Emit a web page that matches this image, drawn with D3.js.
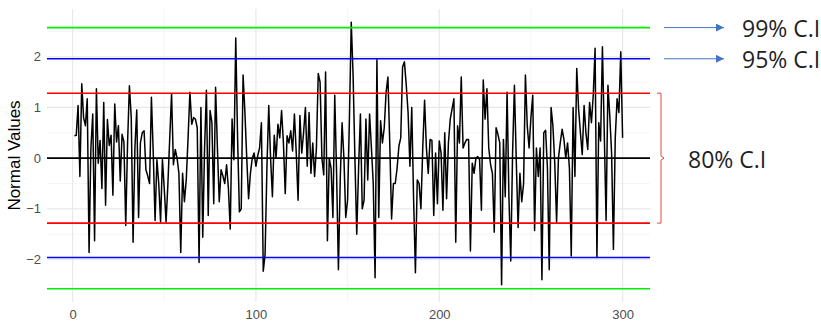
<!DOCTYPE html>
<html>
<head>
<meta charset="utf-8">
<script src="https://cdn.jsdelivr.net/npm/d3@7"></script>
<style>
  body { margin: 0; background: #fff; }
  svg text { font-family: "Liberation Sans", Arial, sans-serif; }
  .tick-label { fill: #4d4d4d; font-size: 13px; }
  .note { font-family: "Open Sans", sans-serif; font-size: 23px; fill: #1f1f1f; }
</style>
</head>
<body>
<div id="chart"></div>
<script>
// 300 draws
const normalValues = [
  0.44, 0.45, 1.04, -0.36, 1.47, 0.8, 0.64, 1.17, -1.86, 0.2,
  0.87, -1.63, 1.37, -0.1, 0.35, -0.6, 1.1, -0.93, 0.76, 0.25,
  0.45, -0.73, 1.07, 0.32, 0.64, -0.45, 0.47, 0.32, -1.33, 0.3,
  1.43, 0.8, -1.66, 0.2, 0.95, -1.17, 0.3, 0.5, 0.54, -0.23,
  -0.35, -0.5, 1.2, 0.1, -1.23, -0.03, -0.5, -1.26, -0.03, -0.6,
  -1.26, -0.5, 0.4, 1.27, -0.13, 0.17, 0.0, -0.3, -1.86, -0.3,
  -0.86, -0.43, 0.4, 1.3, 0.67, 0.8, 0.77, 0.6, -2.06, 1.0,
  -1.56, 0.2, 1.34, -1.13, 0.94, 0.7, -0.9, 1.4, 0.2, -0.86,
  -0.23, -0.35, -0.5, -0.13, -0.6, -1.4, 0.77, -0.03, 2.37, 0.4,
  -1.06, -1.0, 1.64, 0.9, 0.0, -0.8, -0.3, 0.0, 0.1, -0.16,
  0.05, 0.2, 0.7, -2.23, -1.9, -0.2, 1.04, 0.0, -0.76, 0.45,
  0.0, 0.67, 0.4, 0.94, 0.3, -0.7, 0.44, 0.3, 0.54, 0.14,
  0.87, 0.1, -0.83, 0.84, 0.1, 0.5, 1.0, -0.16, 0.9, -0.3,
  0.3, -0.36, 0.2, 1.67, 1.5, 0.0, -0.33, 1.7, -1.63, 0.0,
  -0.2, -1.17, 1.24, -0.3, -2.2, -0.4, 0.7, 0.0, -1.17, -0.83,
  0.77, 2.68, 1.64, 0.0, -1.5, -0.2, 0.87, -1.0, -0.83, 0.77,
  -0.43, 0.87, 0.2, -0.5, -2.36, 1.94, -1.17, 0.74, 0.3, 0.6,
  1.3, 1.6, 0.3, -1.2, -0.5, -0.5, -0.2, 0.24, 0.4, 1.8,
  1.9, 1.44, 0.9, -0.16, 1.0, -0.8, -2.26, -0.43, -0.5, -1.0,
  0.2, 1.14, 0.2, -0.3, 0.37, 0.35, -1.13, 0.1, -0.9, 0.34,
  0.1, -1.03, 0.5, -0.8, 0.3, 0.77, 0.97, 1.17, -1.66, 0.64,
  0.3, 1.6, 0.2, 0.3, 0.37, 0.37, -1.83, -0.1, -0.3, 0.0,
  0.03, -0.03, -1.03, 1.54, 0.77, 1.37, 0.2, -0.13, -0.3, -1.46,
  0.6, 0.47, 0.3, -2.5, 0.37, -0.76, 1.3, -0.76, -2.03, 0.1,
  1.44, -0.03, -1.37, -0.3, -0.86, -0.5, 1.64, 0.64, 0.2, 0.8,
  1.24, -1.43, 0.2, -0.36, 0.2, -2.4, 0.5, 0.55, -0.2, -2.2,
  1.0, 0.64, -0.1, -1.26, 0.0, 0.3, 0.57, 0.37, 0.0, 0.3,
  -0.2, -1.93, 1.0, -0.36, 1.77, 0.97, 0.5, 0.07, 1.04, 0.5,
  0.17, 1.1, 0.7, 1.24, 2.17, -1.96, 0.7, 0.34, 2.2, 0.5,
  -1.23, 1.44, 0.84, 0.1, -1.8, 0.4, 1.17, 0.9, 2.1, 0.4
];

const ciLabels = ['80% C.I', '95% C.I', '99% C.I'];
const ciZ = [1.2816, 1.96, 2.5758];
const ciColors = ['#ff0000', '#0000ff', '#00ee00'];

const xTicks = [0, 100, 200, 300];
const xMinor = [50, 150, 250];
const yTicks = [-2, -1, 0, 1, 2];
const yMinor = [-2.5, -1.5, -0.5, 0.5, 1.5, 2.5];

const width = 821, height = 324;
const panel = { left: 47, right: 650, top: 9, bottom: 302 };

const svg = d3.select('#chart').append('svg')
  .attr('width', width)
  .attr('height', height);

// ggplot-like 5% expansion on both axes
const n = normalValues.length;
const xPad = (n - 1) * 0.05;
const x = d3.scaleLinear()
  .domain([1 - xPad, n + xPad])
  .range([panel.left, panel.right]);

const yLo = Math.min(d3.min(normalValues), -ciZ[2]);
const yHi = Math.max(d3.max(normalValues), ciZ[2]);
const yPad = (yHi - yLo) * 0.05;
const y = d3.scaleLinear()
  .domain([yLo - yPad, yHi + yPad])
  .range([panel.bottom, panel.top]);

// Grid
const grid = svg.append('g');
grid.selectAll('.ymin').data(yMinor).join('line')
  .attr('x1', panel.left).attr('x2', panel.right)
  .attr('y1', d => y(d)).attr('y2', d => y(d))
  .attr('stroke', '#f0f0f0').attr('stroke-width', 0.7);
grid.selectAll('.xmin').data(xMinor).join('line')
  .attr('y1', panel.top).attr('y2', panel.bottom)
  .attr('x1', d => x(d)).attr('x2', d => x(d))
  .attr('stroke', '#f0f0f0').attr('stroke-width', 0.7);
grid.selectAll('.ymaj').data(yTicks).join('line')
  .attr('x1', panel.left).attr('x2', panel.right)
  .attr('y1', d => y(d)).attr('y2', d => y(d))
  .attr('stroke', '#e8e8e8').attr('stroke-width', 1.2);
grid.selectAll('.xmaj').data(xTicks).join('line')
  .attr('y1', panel.top).attr('y2', panel.bottom)
  .attr('x1', d => x(d)).attr('x2', d => x(d))
  .attr('stroke', '#e8e8e8').attr('stroke-width', 1.2);

// Series
const line = d3.line()
  .x((d, i) => x(i + 1))
  .y(d => y(d));

svg.append('path')
  .datum(normalValues)
  .attr('fill', 'none')
  .attr('stroke', '#000')
  .attr('stroke-width', 1.5)
  .attr('stroke-linejoin', 'round')
  .attr('d', line);

// Confidence lines
const ciLines = ciZ.flatMap((z, i) => [{ v: z, c: ciColors[i] }, { v: -z, c: ciColors[i] }]);
ciLines.push({ v: 0, c: '#000' });

svg.append('g').selectAll('line').data(ciLines).join('line')
  .attr('x1', panel.left).attr('x2', panel.right)
  .attr('y1', d => y(d.v)).attr('y2', d => y(d.v))
  .attr('stroke', d => d.c)
  .attr('stroke-width', 1.6);

// Axes
const yAxis = svg.append('g')
  .attr('transform', `translate(${panel.left},0)`)
  .call(d3.axisLeft(y).tickValues(yTicks).tickSize(0).tickPadding(6).tickFormat(d3.format('d')));
yAxis.select('.domain').remove();
yAxis.selectAll('text').attr('class', 'tick-label').attr('font-family', null).attr('font-size', null);

const xAxis = svg.append('g')
  .attr('transform', `translate(0,${panel.bottom})`)
  .call(d3.axisBottom(x).tickValues(xTicks).tickSize(0).tickPadding(8));
xAxis.select('.domain').remove();
xAxis.selectAll('text').attr('class', 'tick-label').attr('font-family', null).attr('font-size', null);

svg.append('text')
  .attr('transform', `translate(20,${(panel.top + panel.bottom) / 2}) rotate(-90)`)
  .attr('text-anchor', 'middle')
  .attr('font-size', 17)
  .attr('fill', '#000')
  .text('Normal Values');

// Annotations
const defs = svg.append('defs');
defs.append('marker')
  .attr('id', 'arrow')
  .attr('viewBox', '0 0 10 10')
  .attr('refX', 10).attr('refY', 5)
  .attr('markerWidth', 8).attr('markerHeight', 8)
  .attr('markerUnits', 'userSpaceOnUse')
  .attr('orient', 'auto')
  .append('path')
  .attr('d', 'M0,0 L10,5 L0,10 Z')
  .attr('fill', '#4472c4');

[2, 1].forEach(i => {
  const ly = y(ciZ[i]);
  svg.append('line')
    .attr('x1', 664).attr('x2', 724)
    .attr('y1', ly).attr('y2', ly)
    .attr('stroke', '#4472c4')
    .attr('stroke-width', 1)
    .attr('marker-end', 'url(#arrow)');
  svg.append('text')
    .attr('class', 'note')
    .attr('x', 742)
    .attr('y', ly + 9)
    .text(ciLabels[i]);
});

// bracket for 80%
const bTop = y(ciZ[0]), bBot = y(-ciZ[0]), bMid = y(0);
svg.append('path')
  .attr('d', `M657,${bTop} H661 V${bMid - 2} L664,${bMid} L661,${bMid + 2} V${bBot} H657`)
  .attr('fill', 'none')
  .attr('stroke', '#e04848')
  .attr('stroke-width', 1);

svg.append('text')
  .attr('class', 'note')
  .attr('x', 688)
  .attr('y', bMid + 10)
  .text(ciLabels[0]);
</script>
</body>
</html>
